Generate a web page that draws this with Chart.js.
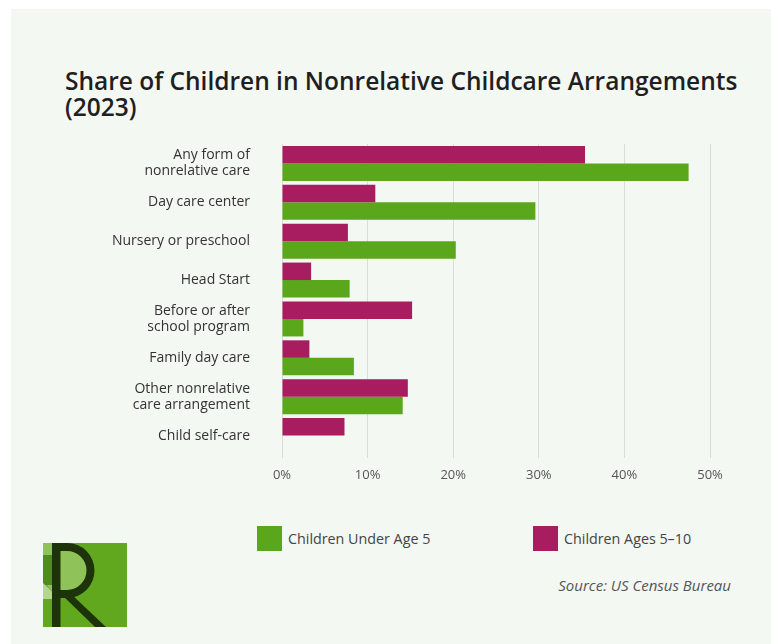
<!DOCTYPE html>
<html>
<head>
<meta charset="utf-8">
<title>Nonrelative Childcare Arrangements</title>
<script src="https://cdn.jsdelivr.net/npm/chart.js@4.4.1/dist/chart.umd.min.js"></script>
<style>
    html, body { margin: 0; padding: 0; background: #ffffff; }
    body { width: 771px; height: 644px; position: relative; overflow: hidden; font-family: 'Open Sans', sans-serif; }
    .panel { position: absolute; left: 11px; top: 9px; right: 0; bottom: 0; background: #f3f8f3; }
    .title { position: absolute; left: 65px; top: 68px; margin: 0; font-size: 24.5px; line-height: 26px; font-weight: 600; color: #1f1f1f; white-space: nowrap; }
    .chart-box { position: absolute; left: 0; top: 130px; width: 771px; height: 365px; }
    .legend-item { position: absolute; top: 526px; height: 25px; display: flex; align-items: center; font-size: 14.3px; color: #444; white-space: nowrap; }
    .legend-item .swatch { width: 25px; height: 25px; margin-right: 6px; }
    .source { position: absolute; right: 40px; top: 575px; font-size: 15px; line-height: 20px; font-style: italic; color: #555; }
    .logo { position: absolute; left: 43px; top: 543px; width: 84px; height: 84px; }
</style>
</head>
<body>
<div class="panel"></div>
<h1 class="title">Share of Children in Nonrelative Childcare Arrangements<br>(2023)</h1>
<div class="chart-box"><canvas id="careChart"></canvas></div>
<div class="legend-item" style="left:257px"><span class="swatch" style="background:#5ba71b"></span>Children Under Age 5</div>
<div class="legend-item" style="left:533px"><span class="swatch" style="background:#a71d5f"></span>Children Ages 5–10</div>
<div class="source">Source: US Census Bureau</div>
<svg class="logo" viewBox="0 0 84 84">
    <rect width="84" height="84" fill="#62a81e"/>
    <circle cx="24" cy="27.5" r="25" fill="#8fc259"/>
    <rect x="0" y="0" width="9" height="12" fill="#8fc259"/>
    <rect x="0" y="12" width="9" height="30" fill="#4e8c1c"/>
    <polygon points="0,40 17,56 0,56" fill="#b4d68f"/>
    <path d="M9,0 H24 A27.5 27.5 0 0 1 24,55 H9 Z M17,8 V47 H24 A19.5 19.5 0 0 0 24,8 Z" fill="#1d3309" fill-rule="evenodd"/>
    <rect x="9" y="0" width="8.5" height="84" fill="#1d3309"/>
    <polygon points="17,50 27,50 63,84 52,84" fill="#1d3309"/>
</svg>

<script>
    // Categories and values (percent of children)
    const categories = [
        ["Any form of", "nonrelative care"],
        "Day care center",
        "Nursery or preschool",
        "Head Start",
        ["Before or after", "school program"],
        "Family day care",
        ["Other nonrelative", "care arrangement"],
        "Child self-care"
    ];
    const ages5to10 = [35.4, 10.9, 7.7, 3.4, 15.2, 3.2, 14.7, 7.3];
    const underAge5 = [47.5, 29.6, 20.3, 7.9, 2.5, 8.4, 14.1, null];
    const xTicks = [0, 10, 20, 30, 40, 50];

    const ctx = document.getElementById('careChart');
    new Chart(ctx, {
        type: 'bar',
        data: {
            labels: categories,
            datasets: [
                { label: 'Children Ages 5–10', data: ages5to10, backgroundColor: '#a71d5f' },
                { label: 'Children Under Age 5', data: underAge5, backgroundColor: '#5ba71b' }
            ]
        },
        options: {
            indexAxis: 'y',
            responsive: true,
            maintainAspectRatio: false,
            animation: false,
            layout: { padding: { left: 0, right: 61, top: 14, bottom: 0 } },
            datasets: { bar: { categoryPercentage: 0.9, barPercentage: 1.0 } },
            plugins: {
                legend: { display: false },
                tooltip: { enabled: false }
            },
            scales: {
                x: {
                    min: xTicks[0],
                    max: xTicks[xTicks.length - 1],
                    afterBuildTicks: axis => { axis.ticks = xTicks.map(v => ({ value: v })); },
                    afterFit: axis => { axis.height = 40; },
                    border: { display: false },
                    grid: { color: '#d9ddd9', lineWidth: 1, drawTicks: true, tickLength: 3 },
                    ticks: {
                        padding: 9,
                        color: '#555',
                        font: { family: 'Open Sans', size: 13 },
                        callback: v => v + '%'
                    }
                },
                y: {
                    afterFit: axis => { axis.width = 282; },
                    border: { display: false },
                    // grid hidden; tick length only spaces the labels off the bars
                    grid: { display: false, drawTicks: true, tickLength: 32 },
                    ticks: {
                        padding: 0,
                        color: '#333',
                        font: { family: 'Open Sans', size: 14, lineHeight: 1.15 }
                    }
                }
            }
        }
    });
</script>
</body>
</html>
